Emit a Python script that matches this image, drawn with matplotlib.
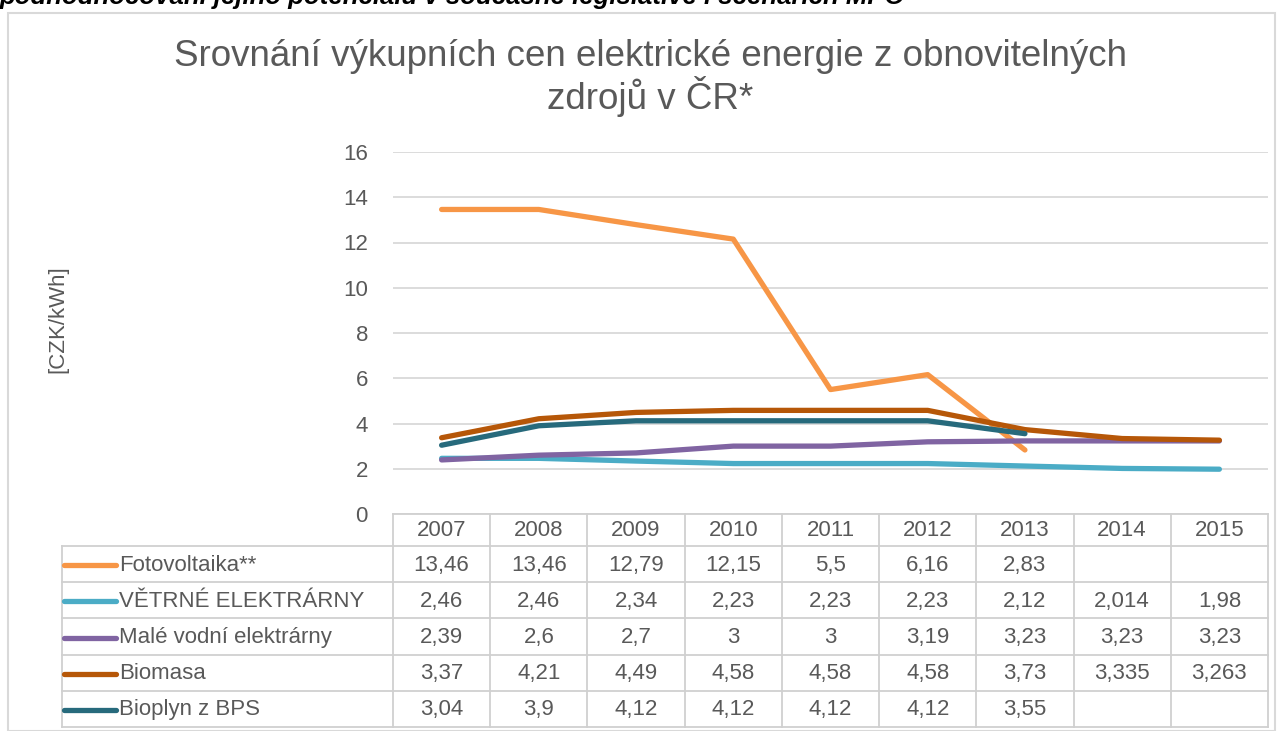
import numpy as np
import matplotlib.pyplot as plt
from matplotlib.patches import Rectangle

# data
years = ['2007', '2008', '2009', '2010', '2011', '2012', '2013', '2014', '2015']
series_names = ['Fotovoltaika**', 'VĚTRNÉ ELEKTRÁRNY', 'Malé vodní elektrárny',
                'Biomasa', 'Bioplyn z BPS']
fotovoltaika = [13.46, 13.46, 12.79, 12.15, 5.5, 6.16, 2.83, None, None]
vetrne = [2.46, 2.46, 2.34, 2.23, 2.23, 2.23, 2.12, 2.014, 1.98]
male_vodni = [2.39, 2.6, 2.7, 3, 3, 3.19, 3.23, 3.23, 3.23]
biomasa = [3.37, 4.21, 4.49, 4.58, 4.58, 4.58, 3.73, 3.335, 3.263]
bioplyn = [3.04, 3.9, 4.12, 4.12, 4.12, 4.12, 3.55, None, None]
colors = ['#F79646', '#4BACC6', '#8064A2', '#B65708', '#276A7C']

title = 'Srovnání výkupních cen elektrické energie z obnovitelných\nzdrojů v ČR*'
top_text = 'podhodnocování jejího potenciálu v současné legislativě i scénářích MPO'

W, H = 1278, 731
fig = plt.figure(figsize=(W / 100, H / 100), dpi=100)
plt.rcParams['font.family'] = ['Liberation Sans', 'DejaVu Sans']
txt = '#595959'
grid = '#D9D9D9'
fs = 16


def fx(px):
    return px / W


def fy(py):
    return 1 - py / H


# chart frame and cut-off heading above it
fig.patches.append(Rectangle((fx(8), fy(731)), fx(1267), fy(13) - fy(731),
                             transform=fig.transFigure, fill=False,
                             edgecolor=grid, lw=1.5))
fig.text(0, fy(4), top_text, fontsize=18.5, fontweight='bold', style='italic',
         va='baseline', ha='left', color='black')

# plot area
x0, x1, ytop, ybot = 393, 1268, 152, 514
ax = fig.add_axes([fx(x0), fy(ybot), fx(x1 - x0), fy(ytop) - fy(ybot)])
ax.set_xlim(-0.5, len(years) - 0.5)
ax.set_ylim(0, 16)
ax.set_yticks(np.arange(0, 17, 2))
ax.yaxis.grid(True, color=grid, lw=1.3)
ax.set_axisbelow(True)
for s in ax.spines.values():
    s.set_visible(False)
ax.set_xticks([])
ax.tick_params(axis='y', length=0, labelsize=fs, labelcolor=txt, pad=18)
fig.text(fx(58), fy(319), '[CZK/kWh]', fontsize=fs, color=txt, rotation=90,
         ha='center', va='center')

all_series = [fotovoltaika, vetrne, male_vodni, biomasa, bioplyn]
xs = np.arange(len(years))
for vals, c in zip(all_series, colors):
    y = np.array([np.nan if v is None else v for v in vals], dtype=float)
    ax.plot(xs, y, color=c, lw=3.8, solid_capstyle='round', solid_joinstyle='round')

fig.text(fx(650), fy(78), title, fontsize=26.5, color=txt, ha='center', va='center',
         linespacing=1.05)

# data table
tab = fig.add_axes([0, 0, 1, 1])
tab.set_xlim(0, W)
tab.set_ylim(H, 0)
tab.axis('off')
lc = '#D0D0D0'
colw = (x1 - x0) / len(years)
hdr_top, hdr_bot = 514, 546
row_h = 36.2
n = len(series_names)
bottom = hdr_bot + n * row_h

# grid of the table
tab.plot([x0, x1], [hdr_top, hdr_top], color=lc, lw=1.3)
for i in range(len(years) + 1):
    xx = x0 + i * colw
    tab.plot([xx, xx], [hdr_top, bottom], color=lc, lw=1.3)
for j in range(n + 1):
    yy = hdr_bot + j * row_h
    tab.plot([62, x1], [yy, yy], color=lc, lw=1.3)
tab.plot([62, 62], [hdr_bot, bottom], color=lc, lw=1.3)

for i, yr in enumerate(years):
    tab.text(x0 + (i + 0.5) * colw, (hdr_top + hdr_bot) / 2 + 1, yr,
             ha='center', va='center', fontsize=fs, color=txt)

for j, (name, vals, c) in enumerate(zip(series_names, all_series, colors)):
    yc = hdr_bot + (j + 0.5) * row_h + 1
    tab.plot([64, 116], [yc, yc], color=c, lw=3.8, solid_capstyle='round')
    tab.text(119, yc, name, ha='left', va='center', fontsize=fs, color=txt)
    for i, v in enumerate(vals):
        if v is None:
            continue
        s = '{:g}'.format(v).replace('.', ',')
        tab.text(x0 + (i + 0.5) * colw, yc, s, ha='center', va='center',
                 fontsize=fs, color=txt)

fig.savefig('out.png', dpi=100)
